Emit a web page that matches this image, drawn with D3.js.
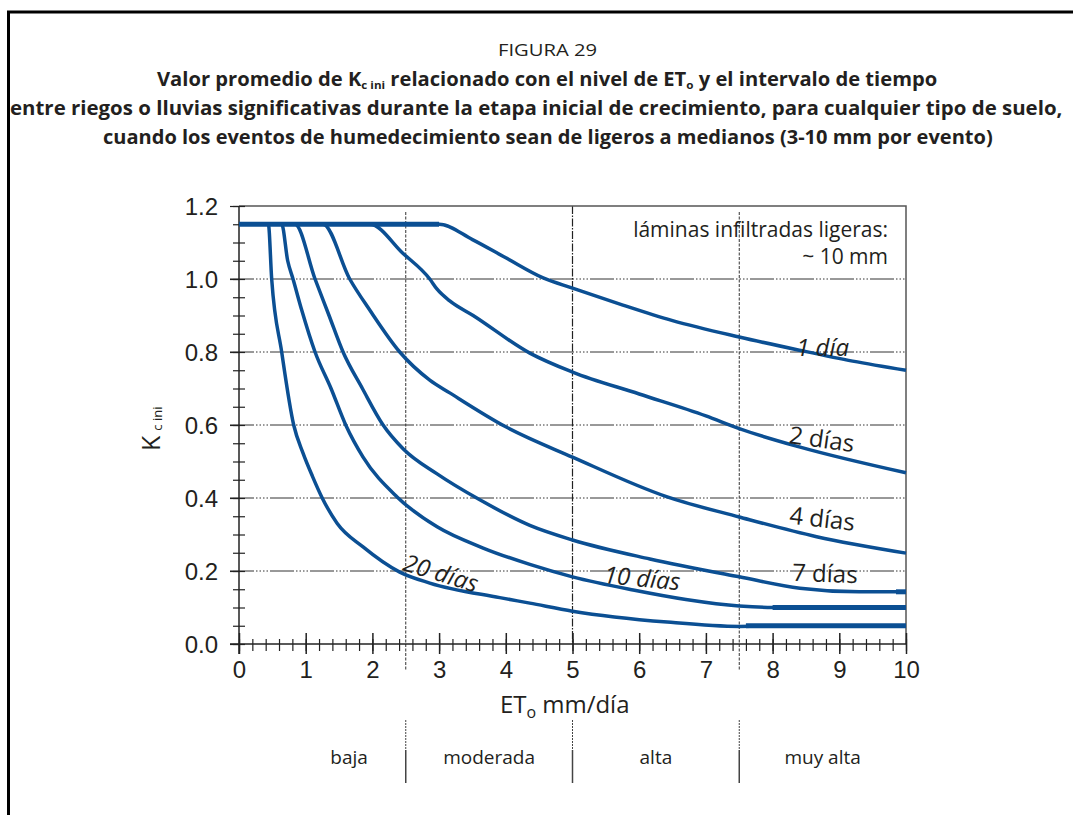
<!DOCTYPE html>
<html>
<head>
<meta charset="utf-8">
<script src="https://cdn.jsdelivr.net/npm/d3@7"></script>
<style>
  body { margin: 0; background: #fff; }
  svg { display: block; font-family: "Open Sans", "Noto Sans", sans-serif; }
  text { fill: #231f20; }
</style>
</head>
<body>
<svg id="chart"></svg>
<script>
// Kc ini vs ETo chart (FIGURA 29)

/*  DATA  */

// curves: [ETo mm/dia, Kc ini]
const kc1dia = [[0,1.15],[3.0,1.15],[3.5,1.108],[4.0,1.058],[4.56,1.003],[5.0,0.975],[5.7,0.932],[6.5,0.886],[7.5,0.841],[8.4,0.805],[9.2,0.775],[10,0.75]];
const kc2dias = [[0,1.15],[1.96,1.15],[2.46,1.07],[2.86,1.0],[2.97,0.972],[3.16,0.94],[3.51,0.9],[4.36,0.797],[5.0,0.745],[6.0,0.685],[7.0,0.625],[7.5,0.59],[8.4,0.54],[10,0.469]];
const kc4dias = [[0,1.15],[1.26,1.15],[1.66,1.0],[1.96,0.915],[2.41,0.8],[2.86,0.723],[3.16,0.688],[4.0,0.595],[5.0,0.512],[6.42,0.403],[7.5,0.348],[8.66,0.294],[10,0.249]];
const kc7dias = [[0,1.15],[0.84,1.15],[1.14,1.0],[1.35,0.9],[1.56,0.8],[1.85,0.7],[2.16,0.6],[2.46,0.535],[2.97,0.466],[3.61,0.395],[4.36,0.325],[5.0,0.285],[6.16,0.233],[7.5,0.184],[8.41,0.153],[9.3,0.143],[10,0.143]];
const kc10dias = [[0,1.15],[0.64,1.15],[0.73,1.05],[0.81,1.0],[0.94,0.915],[1.14,0.8],[1.38,0.7],[1.6,0.6],[1.86,0.512],[2.37,0.403],[2.97,0.321],[3.66,0.263],[4.36,0.218],[5.0,0.184],[5.91,0.148],[6.7,0.122],[7.5,0.104],[8.0,0.1],[10,0.1]];
const kc20dias = [[0,1.15],[0.44,1.15],[0.49,1.0],[0.64,0.8],[0.82,0.6],[0.96,0.523],[1.1,0.46],[1.24,0.403],[1.47,0.331],[1.86,0.266],[2.41,0.197],[2.86,0.167],[3.91,0.127],[4.36,0.112],[5.0,0.09],[6.42,0.06],[7.5,0.048],[8.0,0.05],[10,0.05]];

const curves = [kc1dia, kc2dias, kc4dias, kc7dias, kc10dias, kc20dias];
const curveNames = ['1 día', '2 días', '4 días', '7 días', '10 días', '20 días'];

// flat stretches drawn heavier in the original: [Kc, ETo from, ETo to]
const plateaus = [[1.15, 0, 3.0], [0.143, 9.85, 10], [0.1, 8.0, 10], [0.05, 7.6, 10]];

// ETo classes and their borders
const etClasses = ['baja', 'moderada', 'alta', 'muy alta'];
const etClassBorders = [2.5, 5, 7.5];

const yTickLabels = ['0.0', '0.2', '0.4', '0.6', '0.8', '1.0', '1.2'];

const titleLines = [
    'entre riegos o lluvias significativas durante la etapa inicial de crecimiento, para cualquier tipo de suelo,',
    'cuando los eventos de humedecimiento sean de ligeros a medianos (3-10 mm por evento)'
];

/*  SETUP  */

const width = 1073,
    height = 815,
    blue = '#0b4f93',
    ink = '#231f20';

const svg = d3.select('#chart')
    .attr('width', width)
    .attr('height', height);

// page frame (left and top edges only show)
svg.append('line').attr('x1', 8.5).attr('x2', 8.5).attr('y1', 11).attr('y2', height)
    .attr('stroke', '#000').attr('stroke-width', 3);
svg.append('line').attr('x1', 7).attr('x2', width).attr('y1', 12).attr('y2', 12)
    .attr('stroke', '#000').attr('stroke-width', 3);

const x = d3.scaleLinear().domain([0, 10]).range([239, 906]);
const y = d3.scaleLinear().domain([0, 1.2]).range([644, 206]);

/* TITLE */

// squeeze/stretch a text to a known horizontal span
function fitWidth(sel, x0, x1, baseline) {
    let w = sel.node().getBBox().width;
    sel.attr('transform', 'translate(' + x0 + ',' + baseline + ') scale(' + ((x1 - x0) / w) + ',1)');
}

let fig = svg.append('text').attr('font-size', 17).text('FIGURA 29');
fitWidth(fig, 498, 597, 56);

let t2 = svg.append('text').attr('font-size', 19).attr('font-weight', 700);
t2.append('tspan').text('Valor promedio de K');
t2.append('tspan').attr('font-size', 11).attr('dy', 3).text('c ini');
t2.append('tspan').attr('dy', -3).text(' relacionado con el nivel de ET');
t2.append('tspan').attr('font-size', 11).attr('dy', 3).text('o');
t2.append('tspan').attr('dy', -3).text(' y el intervalo de tiempo');
fitWidth(t2, 157, 938, 86);

let t3 = svg.append('text').attr('font-size', 19).attr('font-weight', 700).text(titleLines[0]);
fitWidth(t3, 10, 1063, 115);
let t4 = svg.append('text').attr('font-size', 19).attr('font-weight', 700).text(titleLines[1]);
fitWidth(t4, 103, 993, 144);

/* GRID */

const grid = svg.append('g').attr('id', 'grid');

grid.selectAll('line.h')
    .data(d3.range(0.2, 1.01, 0.2))
    .enter().append('line')
    .attr('class', 'h')
    .attr('x1', 230).attr('x2', x(10))
    .attr('y1', d => y(d)).attr('y2', d => y(d))
    .attr('stroke', '#333').attr('stroke-width', 1)
    .attr('stroke-dasharray', '24,2,1.5,2,1.5,2,1.5,2,1.5,2');

// ET = 5 line
grid.append('line')
    .attr('x1', x(5)).attr('x2', x(5))
    .attr('y1', y(1.2)).attr('y2', y(0))
    .attr('stroke', '#222').attr('stroke-width', 1.2)
    .attr('stroke-dasharray', '8,1.5,1.5,1.5');

// 2.5 and 7.5 fine dashed, running past the axis
grid.selectAll('line.v')
    .data([2.5, 7.5])
    .enter().append('line')
    .attr('class', 'v')
    .attr('x1', d => x(d)).attr('x2', d => x(d))
    .attr('y1', 212).attr('y2', 670)
    .attr('stroke', '#333').attr('stroke-width', 1)
    .attr('stroke-dasharray', '3,1.5');

// plot frame top/right
svg.append('path')
    .attr('d', 'M' + x(0) + ',' + y(1.2) + 'H' + x(10) + 'V' + y(0))
    .attr('fill', 'none').attr('stroke', '#555').attr('stroke-width', 1.5);

/* AXES */

const xAxisMajor = d3.axisBottom(x).tickValues(d3.range(0, 11)).tickSize(10).tickPadding(6).tickFormat(d3.format('d'));
const xAxisMinor = d3.axisBottom(x).tickValues(d3.range(0, 10.01, 0.2)).tickSize(7).tickFormat('');

let gxMinor = svg.append('g').attr('transform', 'translate(0,' + y(0) + ')').call(xAxisMinor);
gxMinor.selectAll('line').attr('y1', -5);
let gx = svg.append('g').attr('transform', 'translate(0,' + y(0) + ')').call(xAxisMajor);
gx.selectAll('line').attr('y1', -11);
gx.selectAll('.domain, .tick line').attr('stroke', '#222').attr('stroke-width', 1.5);
gxMinor.selectAll('.domain').remove();
gxMinor.selectAll('.tick line').attr('stroke', '#222').attr('stroke-width', 1.2);
gx.selectAll('text').attr('font-size', 24).attr('fill', ink).attr('font-family', null).attr('dy', '0.75em');
gx.select('.domain').attr('d', 'M230,0H' + x(10));

const yAxisMinor = d3.axisLeft(y).tickValues(d3.range(0, 1.201, 0.05)).tickSize(6).tickFormat('');
const yAxisMajor = d3.axisLeft(y).tickValues(d3.range(0, 1.201, 0.2)).tickSize(9).tickPadding(12)
    .tickFormat((d, i) => yTickLabels[i]);

let gyMinor = svg.append('g').attr('transform', 'translate(' + x(0) + ',0)').call(yAxisMinor);
gyMinor.selectAll('line').attr('x2', 6).attr('x1', -6);
gyMinor.selectAll('.domain').remove();
gyMinor.selectAll('.tick line').attr('stroke', '#222').attr('stroke-width', 1.2);
let gy = svg.append('g').attr('transform', 'translate(' + x(0) + ',0)').call(yAxisMajor);
gy.selectAll('.tick line').attr('stroke', '#222').attr('stroke-width', 1.2);
gy.select('.domain').attr('d', 'M0,' + y(1.2) + 'V' + (y(0) + 10)).attr('stroke', '#222').attr('stroke-width', 1.5);
gy.selectAll('text').attr('font-size', 24).attr('fill', ink).attr('font-family', null).attr('dy', '0.36em');

// axis titles
let xt = svg.append('text').attr('x', 500).attr('y', 713).attr('font-size', 24);
xt.append('tspan').text('ET');
xt.append('tspan').attr('font-size', 16).attr('dy', 5).text('o');
xt.append('tspan').attr('dy', -5).attr('dx', 6).text('mm/día');

let yt = svg.append('text').attr('transform', 'translate(160,451) rotate(-90)').attr('font-size', 25);
yt.append('tspan').text('K');
yt.append('tspan').attr('font-size', 13).attr('dy', 2).attr('dx', 5).text('c ini');

/* CURVES */

const line = d3.line()
    .x(d => x(d[0]))
    .y(d => y(d[1]))
    .curve(d3.curveMonotoneX);

svg.append('g').attr('id', 'curves')
    .selectAll('path')
    .data(curves)
    .enter().append('path')
    .attr('d', line)
    .attr('fill', 'none')
    .attr('stroke', blue)
    .attr('stroke-width', 3.5)
    .attr('stroke-linejoin', 'round');

svg.append('g').selectAll('line')
    .data(plateaus)
    .enter().append('line')
    .attr('x1', d => x(d[1])).attr('x2', d => x(d[2]))
    .attr('y1', d => y(d[0])).attr('y2', d => y(d[0]))
    .attr('stroke', blue).attr('stroke-width', 5);

// curve labels: placement in data units + rotation
const labelPlacement = [
    { et: 8.75, kc: 0.79, angle: 0, italic: true },
    { et: 8.72, kc: 0.538, angle: 8, italic: false },
    { et: 8.73, kc: 0.32, angle: 6.5, italic: false },
    { et: 8.78, kc: 0.17, angle: 2, italic: false },
    { et: 6.03, kc: 0.157, angle: 5.5, italic: true },
    { et: 2.99, kc: 0.172, angle: 17, italic: true }
];

svg.append('g').attr('id', 'labels')
    .selectAll('text')
    .data(curveNames)
    .enter().append('text')
    .attr('text-anchor', 'middle')
    .attr('font-size', 24)
    .attr('font-style', (d, i) => labelPlacement[i].italic ? 'italic' : 'normal')
    .attr('transform', (d, i) => 'translate(' + x(labelPlacement[i].et) + ',' + y(labelPlacement[i].kc) + ') rotate(' + labelPlacement[i].angle + ')')
    .text(d => d);

svg.append('text').attr('x', 888).attr('y', 237).attr('text-anchor', 'end').attr('font-size', 21)
    .text('láminas infiltradas ligeras:');
svg.append('text').attr('x', 888).attr('y', 264).attr('text-anchor', 'end').attr('font-size', 21)
    .text('~ 10 mm');

/* ETo CLASSES */

const classCentres = [1.65, 3.75, 6.25, 8.75];

svg.append('g').selectAll('text')
    .data(etClasses)
    .enter().append('text')
    .attr('x', (d, i) => x(classCentres[i]))
    .attr('y', 764)
    .attr('text-anchor', 'middle')
    .attr('font-size', 19)
    .text(d => d);

let sep = svg.append('g').selectAll('g')
    .data(etClassBorders)
    .enter().append('g');
sep.append('line')
    .attr('x1', d => x(d)).attr('x2', d => x(d))
    .attr('y1', 720).attr('y2', 750)
    .attr('stroke', '#444').attr('stroke-width', 1)
    .attr('stroke-dasharray', '2,1');
sep.append('line')
    .attr('x1', d => x(d)).attr('x2', d => x(d))
    .attr('y1', 750).attr('y2', 783)
    .attr('stroke', '#444').attr('stroke-width', 1.5);
</script>
</body>
</html>
